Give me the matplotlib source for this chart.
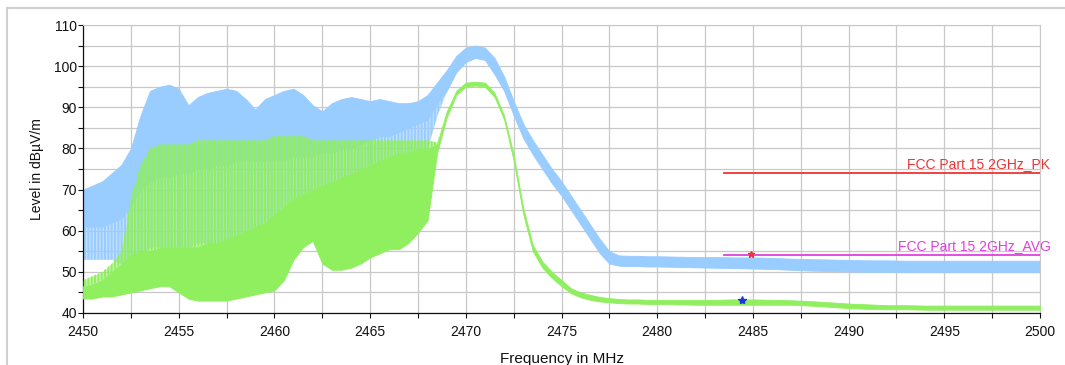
#
# Radiated emission scan, band edge 2450-2500 MHz
#

import matplotlib
matplotlib.use("Agg")
import matplotlib.pyplot as plt
from matplotlib.lines import Line2D
from matplotlib.ticker import MultipleLocator

plt.rcParams['font.family'] = ['Liberation Sans', 'DejaVu Sans']

# sample frequencies (MHz)
freq = [2450.0, 2450.5, 2451.0, 2451.5, 2452.0, 2452.5, 2453.0, 2453.5, 2454.0, 2454.5,
        2455.0, 2455.5, 2456.0, 2456.5, 2457.0, 2457.5, 2458.0, 2458.5, 2459.0, 2459.5,
        2460.0, 2460.5, 2461.0, 2461.5, 2462.0, 2462.5, 2463.0, 2463.5, 2464.0, 2464.5,
        2465.0, 2465.5, 2466.0, 2466.5, 2467.0, 2467.5, 2468.0, 2468.5, 2469.0, 2469.5,
        2470.0, 2470.5, 2471.0, 2471.5, 2472.0, 2472.5, 2473.0, 2473.5, 2474.0, 2474.5,
        2475.0, 2475.5, 2476.0, 2476.5, 2477.0, 2477.5, 2478.0, 2478.5, 2479.0, 2479.5,
        2480.0, 2481.0, 2482.0, 2483.0, 2484.0, 2485.0, 2486.0, 2487.0, 2488.0, 2489.0,
        2490.0, 2491.0, 2492.0, 2493.0, 2494.0, 2495.0, 2496.0, 2497.0, 2498.0, 2499.0,
        2500.0]

# peak trace (blue): top of trace, bottom of the dense part, bottom of the spikes
pk_hi = [70, 71, 72, 74, 76, 80, 88, 94, 95, 95.5,
         94.5, 90.5, 92.5, 93.5, 94, 94.5, 94, 92, 89.5, 92,
         93, 94, 94.5, 93, 90.5, 89, 91, 92, 92.5, 92,
         91.5, 92, 91.5, 91, 91, 91.5, 93, 96, 99, 102.5,
         104.5, 105, 104.5, 102, 97.5, 91.5, 86, 82, 78.5, 75,
         72, 68.5, 65, 61.5, 58, 55, 54.0, 53.9, 53.9, 53.8,
         53.8, 53.7, 53.6, 53.6, 53.5, 53.5, 53.4, 53.2, 53.1, 53.0,
         52.9, 52.8, 52.8, 52.7, 52.7, 52.7, 52.7, 52.7, 52.7, 52.7,
         52.7]
pk_core = [61, 61, 61, 62, 63, 66, 70, 72, 73, 73,
           74, 74, 75, 75, 76, 76, 77, 77, 77, 77,
           77, 77, 78, 78, 78, 79, 79, 80, 80, 81,
           82, 83, 83, 84, 85, 86, 87, 91, 94, 98.5,
           101, 102, 101.5, 98, 94, 88, 82.5, 78.5, 75, 71.5,
           68.5, 65, 61.5, 58, 54.5, 52, 51.5, 51.4, 51.4, 51.3,
           51.3, 51.2, 51.1, 51.0, 50.9, 50.8, 50.7, 50.5, 50.3, 50.2,
           50.1, 50.0, 50.0, 49.9, 49.9, 49.9, 49.9, 49.9, 49.9, 49.9,
           49.9]
pk_lo = [53, 53, 53, 53, 52, 52, 54, 56, 56, 56,
         56, 56, 57, 57, 57, 58, 59, 60, 61, 62,
         64, 66, 68, 69, 70, 71, 72, 73, 74, 75,
         76, 77, 78, 79, 79, 80, 80, 88, 94, 98.5,
         101, 102, 101.5, 98, 94, 88, 82.5, 78.5, 75, 71.5,
         68.5, 65, 61.5, 58, 54.5, 52, 51.5, 51.4, 51.4, 51.3,
         51.3, 51.2, 51.1, 51.0, 50.9, 50.8, 50.7, 50.5, 50.3, 50.2,
         50.1, 50.0, 50.0, 49.9, 49.9, 49.9, 49.9, 49.9, 49.9, 49.9,
         49.9]

# average trace (green): bottom, top of the dense part, top of the spikes
av_lo = [43.5, 43.5, 44, 44, 44.5, 45, 45.5, 46, 46.5, 46.5,
         45, 43.5, 43, 43, 43, 43, 43.5, 44, 44.5, 45,
         45.5, 48, 53, 56, 57.5, 52, 50.5, 50.5, 51, 52,
         53.5, 54.5, 55.5, 55.5, 57, 59.5, 62.5, 79, 87.5, 93,
         95, 95.3, 95, 92.5, 87, 77, 64, 55, 51, 48.5,
         46.5, 44.8, 43.8, 43.2, 42.8, 42.6, 42.4, 42.3, 42.3, 42.2,
         42.2, 42.1, 42.0, 42.0, 42.0, 42.0, 42.0, 42.0, 41.8, 41.5,
         41.2, 41.0, 40.9, 40.9, 40.8, 40.8, 40.8, 40.8, 40.8, 40.8,
         40.8]
av_core = [46.5, 47, 48, 50, 52, 54, 55, 55, 56, 56,
           56, 56, 56, 57, 57, 58, 59, 60, 61, 62,
           64, 66, 68, 69, 70, 71, 72, 73, 74, 75,
           76, 77, 78, 79, 79, 80, 80, 81, 89, 94,
           96, 96.2, 96, 93.5, 88, 78.5, 65.5, 56.5, 52.5, 50,
           48, 46, 45, 44.4, 43.9, 43.6, 43.4, 43.3, 43.3, 43.2,
           43.2, 43.2, 43.2, 43.2, 43.3, 43.3, 43.2, 43.1, 42.9, 42.6,
           42.3, 42.1, 41.9, 41.9, 41.8, 41.8, 41.8, 41.8, 41.8, 41.8,
           41.8]
av_hi = [48, 49, 50, 52, 55, 68, 76, 80, 81, 81,
         81, 81, 82, 82, 82, 82, 82, 82, 82, 82,
         83, 83, 83, 83, 82, 82, 82, 82, 82, 82,
         82, 82, 82, 82, 82, 82, 82, 81.5, 89, 94,
         96, 96.2, 96, 93.5, 88, 78.5, 65.5, 56.5, 52.5, 50,
         48, 46, 45, 44.4, 43.9, 43.6, 43.4, 43.3, 43.3, 43.2,
         43.2, 43.2, 43.2, 43.2, 43.3, 43.3, 43.2, 43.1, 42.9, 42.6,
         42.3, 42.1, 41.9, 41.9, 41.8, 41.8, 41.8, 41.8, 41.8, 41.8,
         41.8]

# limit lines
limit_names = ['FCC Part 15 2GHz_PK', 'FCC Part 15 2GHz_AVG']
limit_levels = [74, 54]
limit_start, limit_stop = 2483.5, 2500
limit_colors = ['#EE3333', '#E040E0']

# final measurement markers
pk_mark = (2484.9, 54.3)
av_mark = (2484.45, 43.2)

BLUE = '#99CCFF'
GREEN = '#8FEF5F'

fig = plt.figure(figsize=(10.65, 3.65), dpi=100)
ax = fig.add_axes([0.078, 0.1425, 0.8985, 0.789])

plt.rcParams['hatch.linewidth'] = 1.4

# peak trace: spikes (light wash + stripes), then the dense body
ax.fill_between(freq, pk_lo, pk_core, color=BLUE, alpha=0.6, linewidth=0, zorder=2)
plt.rcParams['hatch.color'] = BLUE
ax.fill_between(freq, pk_lo, pk_core, facecolor='none', edgecolor=BLUE,
                hatch='|||||', linewidth=0, zorder=2)
ax.fill_between(freq, pk_core, pk_hi, color=BLUE, linewidth=0.6, zorder=2)

# average trace: dense body, then the spikes
ax.fill_between(freq, av_lo, av_core, color=GREEN, linewidth=0.6, zorder=3)
ax.fill_between(freq, av_core, av_hi, color=GREEN, alpha=0.5, linewidth=0, zorder=3)
plt.rcParams['hatch.color'] = GREEN
ax.fill_between(freq, av_core, av_hi, facecolor='none', edgecolor=GREEN,
                hatch='|||||', linewidth=0, zorder=3)

for name, lev, col in zip(limit_names, limit_levels, limit_colors):
    ax.plot([limit_start, limit_stop], [lev, lev], color=col, lw=1.3, zorder=4)
    ax.text(limit_stop + 0.55, lev + 0.5, name, color=col, fontsize=10,
            ha='right', va='bottom', clip_on=False, zorder=5)

ax.plot(*pk_mark, marker='*', color='#EE3333', markersize=5, zorder=6)
ax.plot(*av_mark, marker='*', color='#2233DD', markersize=6, zorder=6)

ax.set_xlim(2450, 2500)
ax.set_ylim(40, 110)
ax.xaxis.set_major_locator(MultipleLocator(5))
ax.xaxis.set_minor_locator(MultipleLocator(2.5))
ax.yaxis.set_major_locator(MultipleLocator(10))
ax.yaxis.set_minor_locator(MultipleLocator(5))
ax.grid(which='both', color='#C8C8C8', lw=0.9, zorder=0)
ax.set_axisbelow(True)
ax.tick_params(which='both', direction='out', length=3.5, width=0.8,
               labelsize=10, colors='#111111')
ax.tick_params(axis='x', pad=5)
ax.tick_params(axis='y', pad=1)

for side in ('top', 'right'):
    ax.spines[side].set_color('#C8C8C8')
for side in ('left', 'bottom'):
    ax.spines[side].set_color('#111111')
    ax.spines[side].set_linewidth(0.9)

ax.set_xlabel('Frequency in MHz', fontsize=11, color='#111111')
ax.set_ylabel('Level in dB\u00b5V/m', fontsize=10, color='#111111')
ax.xaxis.set_label_coords(0.5, -0.137)
ax.yaxis.set_label_coords(-0.041, 0.5)

# outer frame of the report box
fig.add_artist(Line2D([7 / 1065, 1], [1 - 7.5 / 365, 1 - 7.5 / 365],
                      color='#D0D0D0', lw=1.5))
fig.add_artist(Line2D([7 / 1065, 7 / 1065], [0, 1 - 7.5 / 365],
                      color='#D0D0D0', lw=1.5))

fig.savefig('out.png', dpi=100)
